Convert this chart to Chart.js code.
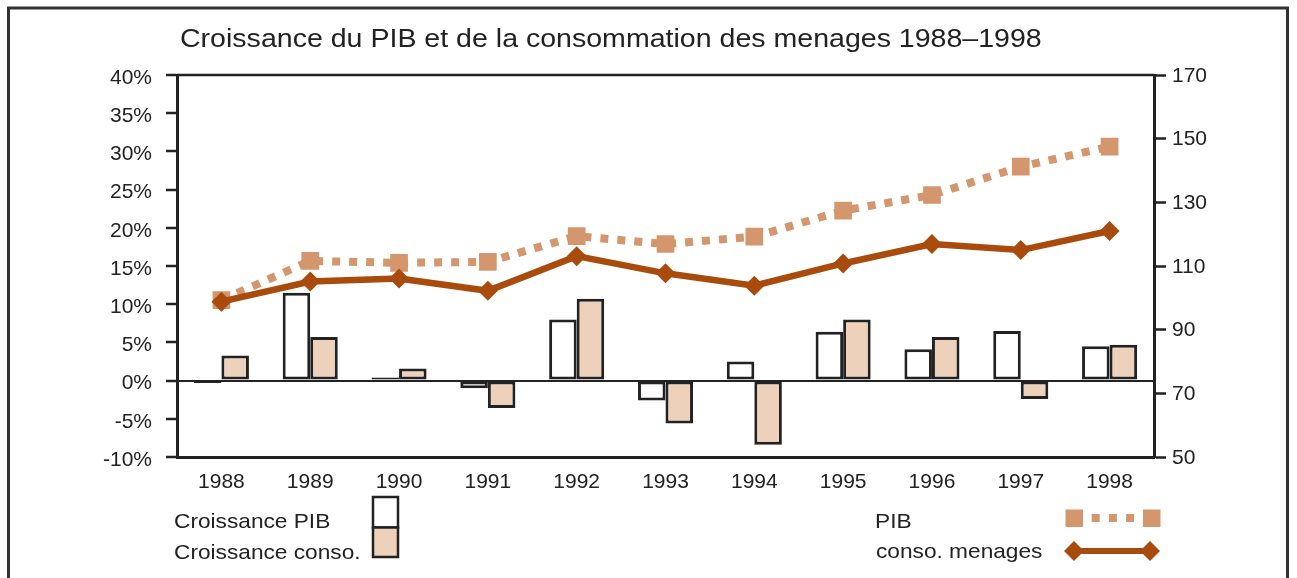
<!DOCTYPE html>
<html><head><meta charset="utf-8">
<style>html,body{margin:0;padding:0;background:#fff;overflow:hidden}
#wrap{position:relative;width:1297px;height:578px}
canvas{display:block}</style>
<script src="https://cdn.jsdelivr.net/npm/chart.js@4.4.1/dist/chart.umd.min.js"></script>
</head><body><div id="wrap"><canvas id="c" width="1297" height="578"></canvas></div>
<script>
const categories = ['1988','1989','1990','1991','1992','1993','1994','1995','1996','1997','1998'];
const croissancePIB   = [-0.3, 11.5, 0.4, -1.0, 8.0, -2.6, 2.5, 6.4, 4.1, 6.5, 4.5];
const croissanceConso = [3.3, 5.7, 1.6, -3.6, 10.7, -5.6, -8.4, 8.0, 5.7, -2.4, 4.7];
const indicePIB   = [99.3, 111.6, 111.0, 111.3, 119.4, 116.9, 119.2, 127.4, 132.3, 141.2, 147.5];
const indiceConso = [98.8, 105.1, 106.1, 102.2, 113.1, 107.7, 103.8, 110.8, 116.9, 115.0, 121.0];
const leftTicks  = [-10, -5, 0, 5, 10, 15, 20, 25, 30, 35, 40];
const rightTicks = [50, 70, 90, 110, 130, 150, 170];
const titleText = 'Croissance du PIB et de la consommation des menages 1988\u20131998';

const FONT = '"Liberation Sans", Arial, Helvetica, sans-serif';
const INK = '#222';
const C_PIB = '#D4966C';
const C_CONSO = '#A84B0C';
const C_FILL = '#EDD1BA';

function wideText(ctx, text, x, y, sx) {
  ctx.save();
  ctx.translate(x, y);
  ctx.scale(sx, 1);
  ctx.fillText(text, 0, 0);
  ctx.restore();
}

const decor = {
  id: 'decor',
  beforeDraw(chart) {
    const ctx = chart.ctx;
    ctx.save();
    ctx.strokeStyle = '#333'; ctx.lineWidth = 3;
    ctx.beginPath();
    ctx.moveTo(8.5, 578); ctx.lineTo(8.5, 8); ctx.lineTo(1287.5, 8); ctx.lineTo(1287.5, 578);
    ctx.stroke();
    ctx.restore();
  },
  afterDatasetsDraw(chart) {
    const ctx = chart.ctx, a = chart.chartArea;
    ctx.save();
    ctx.strokeStyle = INK; ctx.lineWidth = 2.5;
    ctx.beginPath(); ctx.moveTo(a.left, a.top); ctx.lineTo(a.right, a.top); ctx.stroke();
    ctx.restore();
  },
  afterDraw(chart) {
    const ctx = chart.ctx;
    const ds = chart.data.datasets;
    ctx.save();
    ctx.fillStyle = INK;
    ctx.textBaseline = 'alphabetic';
    ctx.textAlign = 'left';
    ctx.font = '26px ' + FONT;
    wideText(ctx, titleText, 180, 46.5, 1.098);
    ctx.font = '21px ' + FONT;
    wideText(ctx, ds[2].label, 174, 528, 1.08);
    wideText(ctx, ds[3].label, 174, 559, 1.08);
    wideText(ctx, ds[0].label, 875, 527.5, 1.08);
    wideText(ctx, ds[1].label, 876, 558, 1.08);
    // bar boxes
    ctx.lineWidth = 2.5; ctx.strokeStyle = INK;
    ctx.fillStyle = ds[2].backgroundColor;
    ctx.fillRect(373, 497, 25, 30.5); ctx.strokeRect(373, 497, 25, 30.5);
    ctx.fillStyle = ds[3].backgroundColor;
    ctx.fillRect(373, 527.5, 25, 29.5); ctx.strokeRect(373, 527.5, 25, 29.5);
    // PIB legend
    ctx.fillStyle = ds[0].borderColor;
    ctx.fillRect(1065.5, 509.5, 17.5, 17.5);
    ctx.fillRect(1143, 509.5, 17.5, 17.5);
    for (let i = 0; i < 3; i++) ctx.fillRect(1091.7 + i * 17.2, 514, 8, 8);
    // conso legend
    ctx.strokeStyle = ds[1].borderColor; ctx.fillStyle = ds[1].borderColor;
    ctx.lineWidth = 6;
    ctx.beginPath(); ctx.moveTo(1074, 551); ctx.lineTo(1150, 551); ctx.stroke();
    [1074, 1150].forEach(x => {
      ctx.beginPath(); ctx.moveTo(x - 10, 551); ctx.lineTo(x, 541); ctx.lineTo(x + 10, 551); ctx.lineTo(x, 561); ctx.closePath(); ctx.fill();
    });
    ctx.restore();
  }
};

const tickFont = { family: FONT, size: 21 };

new Chart(document.getElementById('c'), {
  data: {
    labels: categories,
    datasets: [
      { type: 'line', label: 'PIB', data: indicePIB, yAxisID: 'yR', borderColor: C_PIB, borderWidth: 8,
        borderDash: [8, 9], borderCapStyle: 'butt', pointStyle: 'rect', pointRadius: 12.5, pointHoverRadius: 12.5,
        pointBackgroundColor: C_PIB, pointBorderWidth: 0, tension: 0, fill: false, order: 1 },
      { type: 'line', label: 'conso. menages', data: indiceConso, yAxisID: 'yR', borderColor: C_CONSO, borderWidth: 6.5,
        pointStyle: 'rectRot', pointRadius: 10, pointHoverRadius: 10,
        pointBackgroundColor: C_CONSO, pointBorderWidth: 0, tension: 0, fill: false, order: 0 },
      { type: 'bar', label: 'Croissance PIB', data: croissancePIB, yAxisID: 'yL', backgroundColor: '#ffffff',
        borderColor: INK, borderWidth: 3, borderSkipped: false, categoryPercentage: 0.62, barPercentage: 1, order: 2 },
      { type: 'bar', label: 'Croissance conso.', data: croissanceConso, yAxisID: 'yL', backgroundColor: C_FILL,
        borderColor: INK, borderWidth: 3, borderSkipped: false, categoryPercentage: 0.62, barPercentage: 1, order: 2 }
    ]
  },
  options: {
    responsive: false,
    animation: false,
    layout: { padding: { top: 75, left: 0, right: 0, bottom: 0 } },
    plugins: { legend: { display: false }, title: { display: false }, tooltip: { enabled: false } },
    scales: {
      x: {
        offset: true,
        grid: { display: false, drawTicks: false },
        border: { display: true, color: INK, width: 3 },
        ticks: { color: INK, font: tickFont, padding: 13, maxRotation: 0, autoSkip: false },
        afterFit: s => { s.height = 121; }
      },
      yL: {
        position: 'left', min: -10, max: 40,
        afterBuildTicks: s => { s.ticks = leftTicks.map(v => ({ value: v })); },
        ticks: { color: INK, font: tickFont, padding: 14, labelOffset: 3, callback: v => v + '%' },
        grid: { drawOnChartArea: true, color: c => (c.tick && c.tick.value === 0) ? INK : 'rgba(0,0,0,0)',
                lineWidth: 2, tickLength: 11, tickColor: INK, tickWidth: 2.5 },
        border: { display: true, color: INK, width: 3 },
        afterFit: s => { s.width = 177; }
      },
      yR: {
        position: 'right', min: 50, max: 170,
        afterBuildTicks: s => { s.ticks = rightTicks.map(v => ({ value: v })); },
        ticks: { color: INK, font: tickFont, padding: 6, labelOffset: 1 },
        grid: { drawOnChartArea: false, tickLength: 12, tickColor: INK, tickWidth: 2.5 },
        border: { display: true, color: INK, width: 3 },
        afterFit: s => { s.width = 143; }
      }
    }
  },
  plugins: [decor]
});
</script></body></html>
